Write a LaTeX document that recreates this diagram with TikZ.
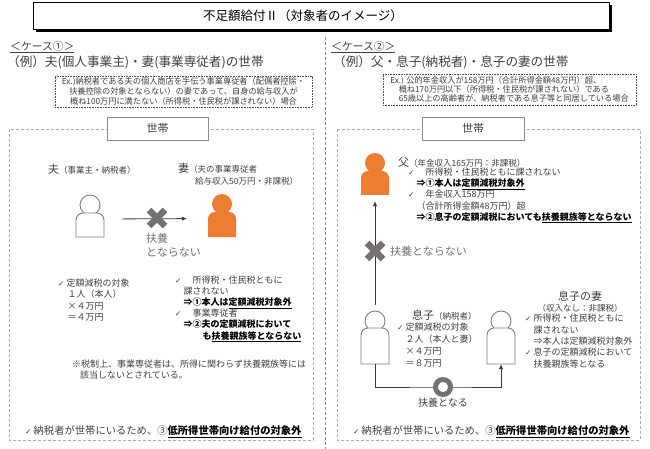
\documentclass[tikz,border=0pt]{standalone}
\usepackage{fontspec}
\setmainfont{Noto Sans CJK JP}
\newfontfamily\symf{DejaVu Sans}
\usetikzlibrary{arrows.meta}
\definecolor{tc}{HTML}{404040}
\definecolor{lc}{HTML}{3A3A3A}
\definecolor{orng}{HTML}{ED7D31}
\definecolor{xgray}{HTML}{767171}
\definecolor{hhbox}{HTML}{A5AEBC}
\definecolor{exbox}{HTML}{44546A}
\definecolor{lblc}{HTML}{8C8C8C}
\definecolor{pgray}{HTML}{7F7F7F}
\definecolor{dgray}{HTML}{8A8A8A}
\newcommand\fs[2]{\fontsize{#1}{#2}\selectfont}
\newcommand\ck{\makebox[8.5pt][l]{\symf\fontsize{7.5}{7.5}\selectfont ✓}}
\newcommand\ind[1]{\hspace*{#1pt}}
\newcommand\ulb[1]{\underline{#1}}
\newcommand\bk[1]{{\bfseries\color{black}#1}}
% person icon: #1 prefix, #2 cx, #3 head cy, #4 body top, #5 body bottom, #6 body height, #7 style
\newcommand\mkperson[7]{%
  \node[circle, inner sep=0, minimum size=20pt, #7] (#1H) at (#2,#3) {};
  \path[#7] (#2-14,#5) -- (#2-14,#4+7) arc[start angle=180,end angle=270,radius=7]
     -- (#2+7,#4) arc[start angle=270,end angle=360,radius=7] -- (#2+14,#5) -- cycle;
  \node[inner sep=0, minimum width=28pt, minimum height=#6pt] (#1B) at (#2,{(#4+#5)/2}) {};
}
\newcommand\crossmk[2]{\draw[xmk] (#1-8,#2-8) -- (#1+8,#2+8) (#1-8,#2+8) -- (#1+8,#2-8);}
\begin{document}
\begin{tikzpicture}[x=1pt,y=-1pt,
  txt/.style={inner sep=0, anchor=west, text=tc, align=left},
  conn/.style={draw=lc, line width=0.8pt},
  arr/.style={conn, -{Latex[length=5pt,width=4.5pt]}},
  xmk/.style={draw=xgray, line width=6.5pt},
  hhb/.style={draw=hhbox, line width=0.7pt, dash pattern=on 3pt off 2pt},
  exb/.style={draw=exbox, line width=0.8pt, dash pattern=on 0.8pt off 0.8pt, inner sep=0, text=tc},
  lbl/.style={draw=lblc, fill=white, line width=0.7pt, minimum height=23pt, inner sep=0, text=tc, font=\fs{11}{13}},
  pout/.style={draw=pgray, fill=white, line width=0.9pt},
  porg/.style={fill=orng}]
\useasboundingbox (0,0) rectangle (650,449);
\fill[white] (0,0) rectangle (650,449);

% title
\fill[black] (36,5) rectangle (612,32);
\node[draw=black, fill=white, line width=0.8pt, minimum width=576pt, minimum height=27pt, inner sep=0] (tbox) at (321,15.5) {};
\node[inner sep=0, font=\fs{12.5}{15}, text=black] (title) at (303,16) {不足額給付Ⅱ（対象者のイメージ）};

% divider
\draw[draw=dgray, line width=0.7pt, dash pattern=on 3pt off 2pt] (325,37) -- (325,449);

% ===== case 1 =====
\node[txt, font=\fs{10.8}{13}] (h1) at (10,47) {\underline{＜ケース①＞}};
\node[txt, font=\fs{12.6}{15}] (e1) at (7,62) {（例）夫(個人事業主)・妻(事業専従者)の世帯};
\node[exb, minimum width=257pt, minimum height=31pt, align=center, font=\fs{8.2}{10}] (ex1) at (183.5,91.5)
 {Ex.)納税者である夫の個人商店を手伝う事業専従者（配偶者控除・\\扶養控除の対象とならない）の妻であって、自身の給与収入が\\概ね100万円に満たない（所得税・住民税が課されない）場合};

\draw[hhb] (9,129) rectangle (313,440);
\node[lbl, minimum width=101pt] (lb1) at (157.5,128.5) {世帯};

\node[txt, font=\fs{8.5}{10}] (thus) at (48,169) {{\fs{11}{13}夫}（事業主・納税者）};
\node[txt, font=\fs{8.5}{10}] (twif1) at (178,168) {{\fs{11}{13}妻}（夫の事業専従者};
\node[txt, font=\fs{8.5}{10}] (twif2) at (195,181) {給与収入50万円・非課税）};

\mkperson{h}{90}{205}{213}{237}{24}{pout}
\mkperson{w}{222}{204}{212}{237}{25}{porg}

\draw[arr, shorten <=18pt, shorten >=21pt] ([yshift=6pt]hB.east) -- ([yshift=6pt]wB.west);
\crossmk{157}{218}
\node[txt, text=xgray, font=\fs{11}{14}] (tfu1) at (146,245) {扶養\\とならない};

\node[txt, font=\fs{9}{11.6}] (tl1) at (58,300) {\ck 定額減税の対象\\\ind{9.5}１人（本人）\\\ind{9.5}×４万円\\\ind{9.5}＝４万円};
\node[txt, font=\fs{9}{11.1}] (tl2) at (175,309) {\ck　所得税・住民税ともに\\\ind{8.5}課されない\\\ind{8.5}\bk{⇒①本人は\ulb{定額減税対象外}}\\\ck　事業専従者\\\ind{8.5}\bk{⇒②夫の定額減税において}\\\ind{27.5}\bk{も\ulb{扶養親族等とならない}}};
\node[txt, font=\fs{9}{11}] (tnote) at (72,369.5) {※税制上、事業専従者は、所得に関わらず扶養親族等には\\\ind{8}該当しないとされている。};
\node[txt, font=\fs{10.3}{12}] (tb1) at (25,432) {\ck 納税者が世帯にいるため、③\bk{\ulb{低所得世帯向け給付の対象外}}};

% ===== case 2 =====
\node[txt, font=\fs{10.8}{13}] (h2) at (331,47) {\underline{＜ケース②＞}};
\node[txt, font=\fs{12.6}{15}] (e2) at (333,62) {（例）父・息子(納税者)・息子の妻の世帯};
\node[exb, minimum width=253pt, minimum height=31pt, align=left, font=\fs{8.2}{9}] (ex2) at (509.5,89.5)
 {Ex.) 公的年金収入が158万円（合計所得金額48万円）超、\\\ind{8.5}概ね170万円以下（所得税・住民税が課されない）である\\\ind{8.5}65歳以上の高齢者が、納税者である息子等と同居している場合};

\draw[hhb] (337,129) rectangle (640,440);
\node[lbl, minimum width=102pt] (lb2) at (473,128.5) {世帯};

\mkperson{f}{375}{163}{171}{195}{24}{porg}
\node[txt, font=\fs{8.5}{10}] (tfa1) at (398,162) {{\fs{11}{13}父}（年金収入165万円：非課税）};
\node[txt, font=\fs{9}{11.2}] (tfa2) at (408,195.5) {\ck　所得税・住民税ともに課されない\\\ind{8.5}\bk{⇒①本人は\ulb{定額減税対象外}}\\\ck　年金収入158万円\\\ind{8.5}（合計所得金額48万円）超\\\ind{8.5}\bk{⇒②息子の定額減税においても\ulb{扶養親族等とならない}}};

\mkperson{s}{375}{321}{328}{364}{36}{pout}
\mkperson{d}{501}{321}{328}{364}{36}{pout}

\draw[arr, shorten <=6pt, shorten >=6pt] (sH.north) -- (fB.south);
\crossmk{375}{251}
\node[txt, text=xgray, font=\fs{11}{13}] (tfu2) at (390,251) {扶養とならない};

\coordinate (mid) at (443,387);
\draw[arr] (sB.south) |- (mid) -| (dB.south);
\node[circle, draw=xgray, fill=white, line width=5pt, minimum size=15pt, inner sep=0] (ring) at (mid) {};
\node[inner sep=0, text=tc, font=\fs{10}{12}] (tfu3) at (443,403) {扶養となる};

\node[txt, font=\fs{8.5}{10}] (tson1) at (412,315) {{\fs{11}{13}息子}（納税者）};
\node[txt, font=\fs{9}{12}] (tson2) at (397,345) {\ck 定額減税の対象\\\ind{8.5}２人（本人と妻）\\\ind{8.5}×４万円\\\ind{8.5}＝８万円};

\node[inner sep=0, text=tc, font=\fs{11}{13}] (tdw1) at (580,296) {息子の妻};
\node[inner sep=0, text=tc, font=\fs{8.5}{10}] (tdw2) at (580,308) {（収入なし：非課税）};
\node[txt, font=\fs{9}{11.4}] (tdw3) at (525,341) {\ck 所得税・住民税ともに\\\ind{8.5}課されない\\\ind{8.5}⇒本人は定額減税対象外\\\ck 息子の定額減税において\\\ind{8.5}扶養親族等となる};

\node[txt, font=\fs{10.3}{12}] (tb2) at (353,432) {\ck 納税者が世帯にいるため、③\bk{\ulb{低所得世帯向け給付の対象外}}};
\end{tikzpicture}
\end{document}
